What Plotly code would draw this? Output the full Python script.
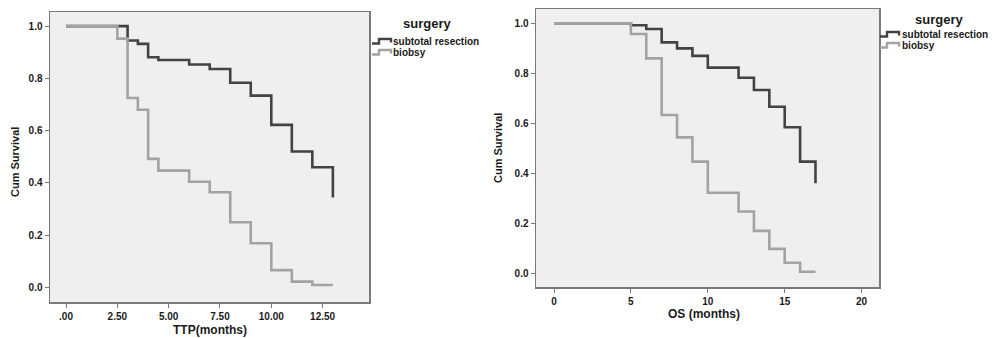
import plotly.graph_objects as go

W, H = 995, 338

# ---- Data ----
ttp_sub_x = [0, 3, 3.5, 4, 4.5, 6, 7, 8, 9, 10, 11, 12, 13]
ttp_sub_y = [1.0, 0.945, 0.932, 0.881, 0.870, 0.853, 0.836, 0.783, 0.734, 0.622, 0.520, 0.460, 0.344]
ttp_bio_x = [0, 2.5, 3, 3.5, 4, 4.5, 6, 7, 8, 9, 10, 11, 12, 13]
ttp_bio_y = [1.0, 0.952, 0.725, 0.680, 0.492, 0.447, 0.404, 0.364, 0.249, 0.169, 0.066, 0.022, 0.009, 0.009]

os_sub_x = [0, 5, 6, 7, 8, 9, 10, 12, 13, 14, 15, 16, 17]
os_sub_y = [1.0, 0.992, 0.977, 0.924, 0.900, 0.870, 0.823, 0.783, 0.734, 0.667, 0.585, 0.448, 0.362]
os_bio_x = [0, 5, 6, 7, 8, 9, 10, 12, 13, 14, 15, 16, 17]
os_bio_y = [1.0, 0.957, 0.860, 0.634, 0.545, 0.448, 0.324, 0.249, 0.172, 0.100, 0.045, 0.009, 0.009]

ttp_ticks = [0, 2.5, 5, 7.5, 10, 12.5]
ttp_ticktext = [".00", "2.50", "5.00", "7.50", "10.00", "12.50"]
os_ticks = [0, 5, 10, 15, 20]
os_ticktext = ["0", "5", "10", "15", "20"]
y_ticks = [0, 0.2, 0.4, 0.6, 0.8, 1.0]
y_ticktext = ["0.0", "0.2", "0.4", "0.6", "0.8", "1.0"]

series_names = ["subtotal resection", "biobsy"]
legend_title = "surgery"
dark = "#434343"
light = "#a3a3a3"

def px(x):
    return x / W

def py(y):
    return 1 - y / H

def bold(lst):
    return ["<b>%s</b>" % t for t in lst]

fig = go.Figure()
fig.add_trace(go.Scatter(x=ttp_sub_x, y=ttp_sub_y, mode="lines", line=dict(color=dark, width=2.6, shape="hv"),
                         xaxis="x", yaxis="y", showlegend=False, hoverinfo="skip"))
fig.add_trace(go.Scatter(x=ttp_bio_x, y=ttp_bio_y, mode="lines", line=dict(color=light, width=2.6, shape="hv"),
                         xaxis="x", yaxis="y", showlegend=False, hoverinfo="skip"))
fig.add_trace(go.Scatter(x=os_sub_x, y=os_sub_y, mode="lines", line=dict(color=dark, width=2.6, shape="hv"),
                         xaxis="x2", yaxis="y2", showlegend=False, hoverinfo="skip"))
fig.add_trace(go.Scatter(x=os_bio_x, y=os_bio_y, mode="lines", line=dict(color=light, width=2.6, shape="hv"),
                         xaxis="x2", yaxis="y2", showlegend=False, hoverinfo="skip"))

tickfont = dict(family="Liberation Sans, Arial, sans-serif", size=10, color="#1a1a1a")
axis_common = dict(showgrid=False, zeroline=False, showline=True, mirror=True, linecolor="#7a7a7a",
                   linewidth=1.5, ticks="outside", ticklen=4, tickcolor="#7a7a7a", tickwidth=1,
                   tickfont=tickfont, fixedrange=True)

fig.update_layout(
    width=W, height=H,
    margin=dict(l=0, r=0, t=0, b=0),
    paper_bgcolor="white",
    plot_bgcolor="#efefef",
    showlegend=False,
    xaxis=dict(domain=[px(50), px(369)], range=[-0.78, 14.76], anchor="y",
               tickvals=ttp_ticks, ticktext=bold(ttp_ticktext), **axis_common),
    yaxis=dict(domain=[py(302), py(12)], range=[-0.056, 1.054], anchor="x",
               tickvals=y_ticks, ticktext=bold(y_ticktext), **axis_common),
    xaxis2=dict(domain=[px(536), px(879)], range=[-1.17, 21.13], anchor="y2",
                tickvals=os_ticks, ticktext=bold(os_ticktext), **axis_common),
    yaxis2=dict(domain=[py(287), py(9)], range=[-0.052, 1.057], anchor="x2",
                tickvals=y_ticks, ticktext=bold(y_ticktext), **axis_common),
)

titlefont = dict(family="Liberation Sans, Arial, sans-serif", size=12, color="#1a1a1a")
yfont = dict(family="Liberation Sans, Arial, sans-serif", size=11, color="#1a1a1a")
ann = []
# axis titles
ann.append(dict(x=px(210), y=py(330), xref="paper", yref="paper", text="<b>TTP(months)</b>",
                showarrow=False, font=titlefont, xanchor="center", yanchor="middle"))
ann.append(dict(x=px(704), y=py(314), xref="paper", yref="paper", text="<b>OS (months)</b>",
                showarrow=False, font=titlefont, xanchor="center", yanchor="middle"))
ann.append(dict(x=px(15), y=py(162), xref="paper", yref="paper", text="<b>Cum Survival</b>",
                showarrow=False, font=yfont, textangle=-90, xanchor="center", yanchor="middle"))
ann.append(dict(x=px(498), y=py(148), xref="paper", yref="paper", text="<b>Cum Survival</b>",
                showarrow=False, font=yfont, textangle=-90, xanchor="center", yanchor="middle"))

legfont = dict(family="Liberation Sans, Arial, sans-serif", size=10, color="#1a1a1a")
legtitlefont = dict(family="Liberation Sans, Arial, sans-serif", size=13, color="#1a1a1a")
shapes = []

def legend(title_x, title_y, icon_x, item_ys, text_x):
    ann.append(dict(x=px(title_x), y=py(title_y), xref="paper", yref="paper", text="<b>%s</b>" % legend_title,
                    showarrow=False, font=legtitlefont, xanchor="center", yanchor="middle"))
    for name, col, yy in zip(series_names, [dark, light], item_ys):
        ann.append(dict(x=px(text_x), y=py(yy), xref="paper", yref="paper", text="<b>%s</b>" % name,
                        showarrow=False, font=legfont, xanchor="left", yanchor="middle",
                        xshift=-2))
        x0 = icon_x
        path = "M %f,%f L %f,%f L %f,%f L %f,%f L %f,%f" % (
            px(x0), py(yy + 2), px(x0 + 7), py(yy + 2), px(x0 + 7), py(yy - 2.5),
            px(x0 + 19), py(yy - 2.5), px(x0 + 19), py(yy + 1))
        shapes.append(dict(type="path", path=path, xref="paper", yref="paper",
                           line=dict(color=col, width=2.4)))

legend(427, 23, 372, [41.5, 52.5], 393)
legend(939, 20, 880, [34.5, 45.5], 902)

fig.update_layout(annotations=ann, shapes=shapes, hovermode=False)
fig.write_html("out.html", config={"displayModeBar": False, "staticPlot": True},
               post_script="document.body.style.margin='0';")
